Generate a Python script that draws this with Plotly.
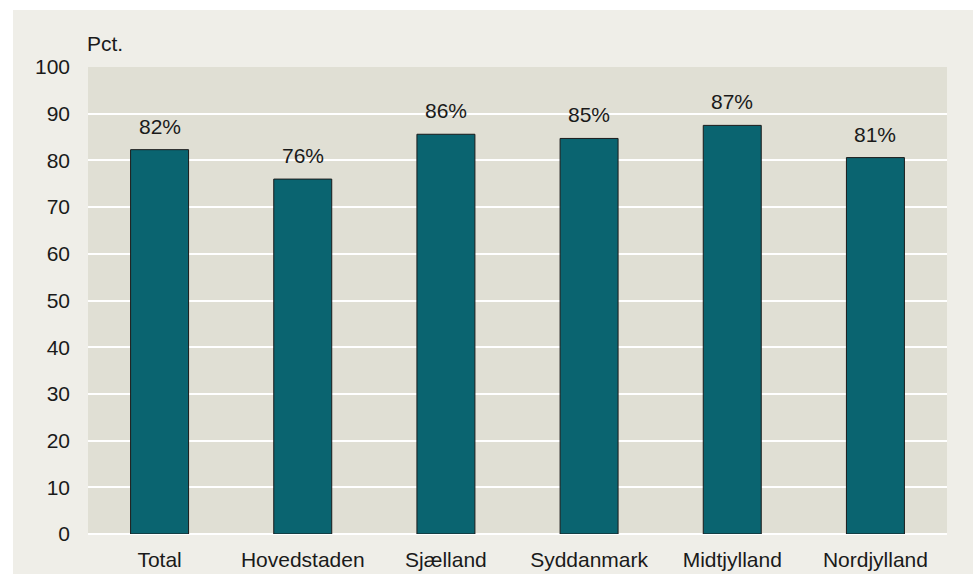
import plotly.graph_objects as go

categories = ["Total", "Hovedstaden", "Sjælland", "Syddanmark", "Midtjylland", "Nordjylland"]
values = [82.3, 76.0, 85.6, 84.7, 87.5, 80.6]
labels = ["82%", "76%", "86%", "85%", "87%", "81%"]
y_ticks = [0, 10, 20, 30, 40, 50, 60, 70, 80, 90, 100]

W, H = 973, 574
L, R, T, B = 88, 26, 67, 40
pw, ph = W - L - R, H - T - B

FONT = "Liberation Sans, Arial, sans-serif"
FS = 21
BEIGE = "#efeee8"
PLOT_BG = "#e0dfd4"
TXT = "#1a1a1a"

fig = go.Figure()
fig.add_trace(go.Bar(
    x=categories, y=values,
    marker=dict(color="#0a6470", line=dict(color="#1a1a1a", width=1)),
    width=0.405,
    hoverinfo="skip",
))

annotations = [dict(x=c, y=v, text=t, xref="x", yref="y", showarrow=False,
                    yanchor="bottom", xanchor="center", yshift=10,
                    font=dict(size=FS, family=FONT, color=TXT))
               for c, v, t in zip(categories, values, labels)]
annotations.append(dict(text="Pct.", xref="paper", yref="paper", x=-3 / pw, y=(ph + T - 43) / ph,
                        xanchor="left", yanchor="middle", showarrow=False,
                        font=dict(size=FS, family=FONT, color=TXT)))

fig.update_layout(
    width=W, height=H,
    margin=dict(l=L, r=R, t=T, b=B, autoexpand=False),
    paper_bgcolor=BEIGE,
    plot_bgcolor=PLOT_BG,
    font=dict(family=FONT, size=FS, color=TXT),
    showlegend=False,
    xaxis=dict(showgrid=False, ticks="", showline=False, tickfont=dict(size=FS),
               ticklabelstandoff=11, automargin=False),
    yaxis=dict(range=[0, 100], tickvals=y_ticks, showgrid=True, gridcolor="white",
               gridwidth=2, zeroline=True, zerolinecolor="white", zerolinewidth=2,
               ticks="", showline=False, tickfont=dict(size=FS), ticklabelstandoff=17,
               automargin=False),
    shapes=[
        dict(type="rect", xref="paper", yref="paper", x0=-L / pw, x1=(13 - L) / pw,
             y0=-B / ph, y1=(H - B) / ph, fillcolor="white", line=dict(width=0), layer="below"),
        dict(type="rect", xref="paper", yref="paper", x0=-L / pw, x1=(W - L) / pw,
             y0=(H - B - 10) / ph, y1=(H - B) / ph, fillcolor="white", line=dict(width=0), layer="below"),
    ],
    annotations=annotations,
)

fig.write_html("out.html",
               config={"displayModeBar": False},
               post_script="document.body.style.margin='0';document.body.style.overflow='hidden';"
                           "document.body.style.background='#efeee8';")
